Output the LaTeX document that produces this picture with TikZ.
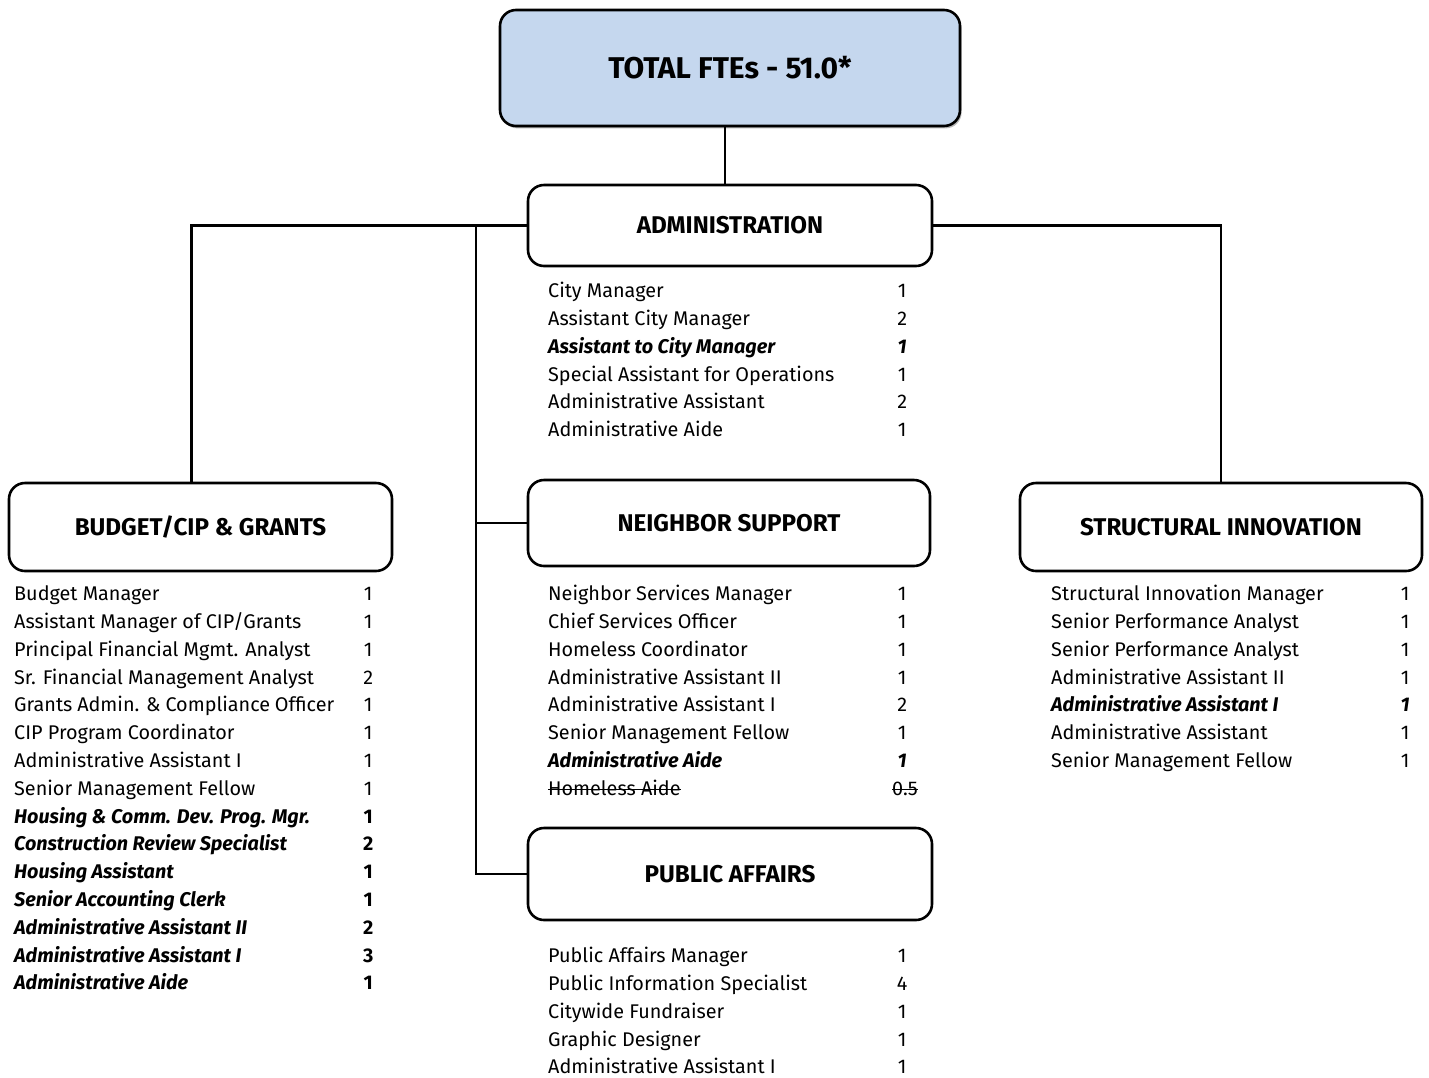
\documentclass[tikz,border=0pt]{standalone}
\usepackage{fontspec}
\setmainfont{Fira Sans}
\usepackage{array}
\usepackage{tikz}
\usetikzlibrary{positioning,shadows}

\definecolor{ftefill}{HTML}{C5D7EE}
\newcommand{\hl}[1]{\textbf{\textit{#1}}}
\newcommand{\struck}[1]{\leavevmode\setbox0\hbox{#1}\rlap{\rule[0.27em]{\wd0}{0.6pt}}\box0}
\newcolumntype{J}{@{}p{160pt}>{\centering\arraybackslash}p{10pt}@{}}

\begin{document}
\begin{tikzpicture}[
  x=0.5pt,y=-0.5pt,
  line width=1.2pt,
  unit/.style={draw,line width=1.3pt,rounded corners=8pt,fill=white,
    font=\fontsize{12.1}{14}\selectfont\bfseries,minimum width=202pt,minimum height=43pt},
  staff/.style={anchor=north west,inner sep=0pt,font=\fontsize{9.9}{13.9}\selectfont},
]
\useasboundingbox (0,0) rectangle (1429,1077);

% top box
\node[unit,fill=ftefill,minimum width=230pt,minimum height=58pt,
  font=\fontsize{15}{18}\selectfont\bfseries,
  drop shadow={shadow xshift=0.8pt,shadow yshift=-1.2pt,fill=black!55}] (total) at (730,68) {TOTAL FTEs - 51.0*};

% units
\node[unit,minimum height=40.5pt] (admin) at (730,225.5) {ADMINISTRATION};
\node[unit,minimum width=191.5pt,minimum height=44pt] (budget) at (200.5,527) {BUDGET/CIP \& GRANTS};
\node[unit,minimum width=201pt,minimum height=43pt] (neighbor) at (729,523) {NEIGHBOR SUPPORT};
\node[unit,minimum width=201pt,minimum height=44pt] (struct) at (1221,527) {STRUCTURAL INNOVATION};
\node[unit,minimum height=46pt] (public) at (730,874) {PUBLIC AFFAIRS};

% connectors
\coordinate (spine) at (476,225.5);
\draw ([xshift=-2.5pt]total.south) -- ([xshift=-2.5pt]total.south |- admin.north);
\draw (admin.west) -| ([xshift=-4.5pt]budget.north);
\draw (admin.east) -| (struct.north);
\draw (spine) |- (neighbor.west);
\draw (spine) |- (public.west);

% staff lists
\node[staff] (adminlist) at (547,277) {\begin{tabular}{J}
City Manager & 1\\
Assistant City Manager & 2\\
\hl{Assistant to City Manager} & \hl{1}\\
Special Assistant for Operations & 1\\
Administrative Assistant & 2\\
Administrative Aide & 1
\end{tabular}};

\node[staff] (budgetlist) at (13,580) {\begin{tabular}{J}
Budget Manager & 1\\
Assistant Manager of CIP/Grants & 1\\
Principal Financial Mgmt. Analyst & 1\\
Sr. Financial Management Analyst & 2\\
Grants Admin. \& Compliance Officer & 1\\
CIP Program Coordinator & 1\\
Administrative Assistant I & 1\\
Senior Management Fellow & 1\\
\hl{Housing \& Comm. Dev. Prog. Mgr.} & \textbf{1}\\
\hl{Construction Review Specialist} & \textbf{2}\\
\hl{Housing Assistant} & \textbf{1}\\
\hl{Senior Accounting Clerk} & \textbf{1}\\
\hl{Administrative Assistant II} & \textbf{2}\\
\hl{Administrative Assistant I} & \textbf{3}\\
\hl{Administrative Aide} & \textbf{1}
\end{tabular}};

\node[staff] (neighborlist) at (547,580) {\begin{tabular}{J}
Neighbor Services Manager & 1\\
Chief Services Officer & 1\\
Homeless Coordinator & 1\\
Administrative Assistant II & 1\\
Administrative Assistant I & 2\\
Senior Management Fellow & 1\\
\hl{Administrative Aide} & \hl{1}\\
\struck{Homeless Aide} & \struck{0.5}
\end{tabular}};

\node[staff] (structlist) at (1050,580) {\begin{tabular}{J}
Structural Innovation Manager & 1\\
Senior Performance Analyst & 1\\
Senior Performance Analyst & 1\\
Administrative Assistant II & 1\\
\hl{Administrative Assistant I} & \hl{1}\\
Administrative Assistant & 1\\
Senior Management Fellow & 1
\end{tabular}};

\node[staff] (publiclist) at (547,942) {\begin{tabular}{J}
Public Affairs Manager & 1\\
Public Information Specialist & 4\\
Citywide Fundraiser & 1\\
Graphic Designer & 1\\
Administrative Assistant I & 1
\end{tabular}};
\end{tikzpicture}
\end{document}
